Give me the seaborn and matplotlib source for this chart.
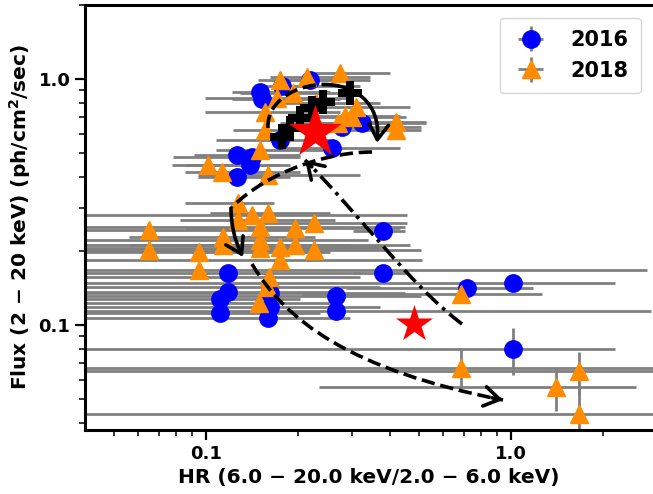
import numpy as np
import pandas as pd
import matplotlib
matplotlib.use("Agg")
import matplotlib.pyplot as plt
import seaborn as sns
from matplotlib.path import Path
from matplotlib.patches import PathPatch, FancyArrowPatch
from matplotlib.ticker import FixedLocator, FixedFormatter, LogLocator, NullFormatter
from matplotlib.legend_handler import HandlerErrorbar

# ---------------- data: 2016 ----------------
hr_2016 = [0.150, 0.153, 0.178, 0.219, 0.280, 0.325, 0.259, 0.175, 0.126, 0.142, 0.139, 0.126,
           0.379, 0.379, 0.718, 1.016, 1.016, 0.267, 0.267, 0.118, 0.118, 0.111, 0.111,
           0.162, 0.162, 0.160]
flux_2016 = [0.885, 0.830, 0.937, 0.990, 0.638, 0.662, 0.524, 0.565, 0.491, 0.482, 0.447, 0.400,
             0.241, 0.163, 0.141, 0.149, 0.080, 0.131, 0.114, 0.163, 0.136, 0.128, 0.112,
             0.135, 0.119, 0.107]
hr_err_lo_2016 = [0.028, 0.031, 0.030, 0.044, 0.077, 0.106, 0.084, 0.067, 0.035, 0.064, 0.054, 0.032,
                  0.076, 0.076, 0.430, 1.016, 1.016, 0.267, 0.267, 0.118, 0.118, 0.111, 0.111,
                  0.162, 0.162, 0.160]
hr_err_hi_2016 = [0.105, 0.122, 0.142, 0.127, 0.225, 0.200, 0.175, 0.080, 0.077, 0.062, 0.036, 0.063,
                  0.071, 0.075, 0.460, 1.170, 1.180, 0.238, 2.600, 0.202, 0.137, 0.092, 0.126,
                  0.288, 0.211, 0.137]
flux_err_2016 = [0.03, 0.03, 0.03, 0.03, 0.025, 0.025, 0.02, 0.02, 0.02, 0.02, 0.02, 0.02,
                 0.01, 0.008, 0.008, 0.008, 0.017, 0.008, 0.008, 0.008, 0.008, 0.008, 0.008,
                 0.008, 0.008, 0.008]

# ---------------- data: 2018 ----------------
hr_2018 = [0.175, 0.215, 0.275, 0.171, 0.156, 0.156, 0.150, 0.418, 0.418, 0.310, 0.270, 0.193,
           0.1015, 0.113, 0.160, 0.300, 0.230, 0.286,
           0.127, 0.127, 0.142, 0.160, 0.150, 0.114, 0.114, 0.150, 0.150, 0.175, 0.175,
           0.196, 0.196, 0.226, 0.226, 0.065, 0.065, 0.095, 0.095, 0.161, 0.158, 0.149,
           0.687, 0.687, 1.405, 1.669, 1.669]
flux_2018 = [0.990, 1.020, 1.058, 0.837, 0.734, 0.621, 0.514, 0.669, 0.621, 0.770, 0.662, 0.877,
             0.447, 0.419, 0.407, 0.701, 0.800, 0.710,
             0.313, 0.268, 0.280, 0.285, 0.250, 0.229, 0.211, 0.221, 0.205, 0.207, 0.184,
             0.248, 0.211, 0.260, 0.202, 0.243, 0.202, 0.198, 0.167, 0.157, 0.143, 0.123,
             0.134, 0.067, 0.056, 0.065, 0.0436]
hr_err_lo_2018 = [0.027, 0.053, 0.064, 0.072, 0.057, 0.033, 0.042, 0.132, 0.121, 0.099, 0.095, 0.064,
                  0.024, 0.028, 0.066, 0.097, 0.068, 0.097,
                  0.042, 0.045, 0.142, 0.057, 0.150, 0.058, 0.058, 0.150, 0.150, 0.065, 0.175,
                  0.111, 0.196, 0.106, 0.226, 0.065, 0.065, 0.095, 0.095, 0.161, 0.158, 0.149,
                  0.480, 0.687, 1.170, 1.669, 1.669]
hr_err_hi_2018 = [0.111, 0.131, 0.127, 0.126, 0.119, 0.099, 0.125, 0.107, 0.087, 0.158, 0.164, 0.127,
                  0.087, 0.090, 0.160, 0.151, 0.143, 0.148,
                  0.040, 0.138, 0.314, 0.095, 0.300, 0.114, 0.183, 0.189, 0.223, 0.211, 0.335,
                  0.238, 0.272, 0.230, 0.279, 0.138, 0.085, 0.160, 2.700, 0.159, 0.215, 0.126,
                  0.580, 2.500, 1.170, 1.500, 1.500]
flux_err_2018 = [0.03, 0.03, 0.03, 0.03, 0.025, 0.025, 0.02, 0.025, 0.025, 0.025, 0.025, 0.03,
                 0.02, 0.02, 0.02, 0.025, 0.03, 0.025,
                 0.012, 0.012, 0.012, 0.012, 0.01, 0.01, 0.01, 0.01, 0.01, 0.01, 0.01,
                 0.01, 0.01, 0.01, 0.01, 0.01, 0.01, 0.01, 0.01, 0.008, 0.008, 0.008,
                 0.008, 0.013, 0.011, 0.013, 0.015]

# ---------------- track (black plus) and reference stars ----------------
hr_track = [0.178, 0.1885, 0.2034, 0.2228, 0.2422, 0.297]
flux_track = [0.581, 0.632, 0.694, 0.762, 0.806, 0.877]
hr_star_big, flux_star_big = [0.228], [0.609]
hr_star_small, flux_star_small = [0.481], [0.101]

# ---------------- annotation arrow paths (axes fraction) ----------------
loop_arrow = [(0.3222, 0.7106), (0.3169, 0.8353), (0.5282, 0.8706), (0.5141, 0.6753)]
dash_curve = [(0.5053, 0.6541), (0.4313, 0.6541), (0.3257, 0.6118), (0.2588, 0.5247)]
down_arrow = [(0.257, 0.5224), (0.2782, 0.4071)]
long_arrow = [(0.2940, 0.3906), (0.3521, 0.2588), (0.4665, 0.1412), (0.7359, 0.0706)]
dashdot_arrow = [(0.6637, 0.2494), (0.5722, 0.3412), (0.4842, 0.5059), (0.3873, 0.6353)]

tick_vals = [0.1, 1.0]
tick_labels = ["0.1", "1.0"]

# ---------------- style ----------------
sns.set_style("ticks", {"axes.edgecolor": "black", "text.color": "black",
                        "axes.labelcolor": "black", "xtick.color": "black",
                        "ytick.color": "black"})
plt.rcParams["font.family"] = ["DejaVu Sans"]
plt.rcParams["font.weight"] = "bold"
plt.rcParams["mathtext.fontset"] = "dejavusans"
plt.rcParams["mathtext.default"] = "bf"

fig = plt.figure(figsize=(6.53, 4.94), dpi=100)
ax = fig.add_axes([85 / 653, 64 / 494, 568 / 653, 425 / 494])

ax.set_xscale("log")
ax.set_yscale("log")

GRAY = "#808080"
eb16 = ax.errorbar(hr_2016, flux_2016, xerr=[hr_err_lo_2016, hr_err_hi_2016], yerr=flux_err_2016,
                   fmt="o", color="blue", ms=12.5, mec="blue", ecolor=GRAY, elinewidth=2,
                   capsize=0, zorder=2, label="2016")
eb18 = ax.errorbar(hr_2018, flux_2018, xerr=[hr_err_lo_2018, hr_err_hi_2018], yerr=flux_err_2018,
                   fmt="^", color="darkorange", ms=13, mec="darkorange", ecolor=GRAY, elinewidth=2,
                   capsize=0, zorder=2, label="2018")
eb16[0].set_zorder(4)
eb18[0].set_zorder(4.1)

df_track = pd.DataFrame({"hr": hr_track, "flux": flux_track})
sns.scatterplot(data=df_track, x="hr", y="flux", marker="P", s=17 ** 2, color="black",
                edgecolor="black", linewidth=0, ax=ax, zorder=5, legend=False)
df_big = pd.DataFrame({"hr": hr_star_big, "flux": flux_star_big})
sns.scatterplot(data=df_big, x="hr", y="flux", marker="*", s=40 ** 2, color="red",
                edgecolor="red", linewidth=0, ax=ax, zorder=5.5, legend=False)
df_small = pd.DataFrame({"hr": hr_star_small, "flux": flux_star_small})
sns.scatterplot(data=df_small, x="hr", y="flux", marker="*", s=28 ** 2, color="red",
                edgecolor="red", linewidth=0, ax=ax, zorder=5.5, legend=False)

# ---------------- arrows ----------------
def cubic(pts):
    return Path(np.asarray(pts), [Path.MOVETO, Path.CURVE4, Path.CURVE4, Path.CURVE4])

def split_cubic(p, t):
    p = np.asarray(p, dtype=float)
    a = (1 - t) * p[0] + t * p[1]
    b = (1 - t) * p[1] + t * p[2]
    c = (1 - t) * p[2] + t * p[3]
    d = (1 - t) * a + t * b
    e = (1 - t) * b + t * c
    f = (1 - t) * d + t * e
    return [p[0], a, d, f], [f, e, c, p[3]]

LW = 2.6
AST = "->,head_length=0.55,head_width=0.35"

def dashed(pts, ls="--"):
    ax.add_patch(PathPatch(cubic(pts), fill=False, lw=LW, ls=ls, ec="black",
                           transform=ax.transAxes, zorder=7, capstyle="butt"))

def head(pts):
    p2 = np.asarray(pts[-2], float)
    p3 = np.asarray(pts[-1], float)
    d = p3 - p2
    d = d / np.hypot(*d) * 0.02
    ax.add_patch(FancyArrowPatch(tuple(p3 - d), tuple(p3), arrowstyle=AST, mutation_scale=20,
                                 lw=LW, color="black", shrinkA=0, shrinkB=0,
                                 transform=ax.transAxes, zorder=7))

first, second = split_cubic(loop_arrow, 0.5)
dashed(first)
ax.add_patch(FancyArrowPatch(path=cubic(second), arrowstyle=AST, mutation_scale=20, lw=LW,
                             color="black", transform=ax.transAxes, zorder=7))
dashed(dash_curve)
ax.add_patch(FancyArrowPatch(down_arrow[0], down_arrow[1], arrowstyle=AST, mutation_scale=20,
                             lw=LW, color="black", shrinkA=0, shrinkB=0,
                             connectionstyle="arc3,rad=0.12",
                             transform=ax.transAxes, zorder=7))
dashed(long_arrow)
head(long_arrow)
dashed(dashdot_arrow, ls=(0, (4.5, 1.6, 1.0, 1.6)))
head(dashdot_arrow)

# ---------------- axes ----------------
ax.set_xlim(0.0401, 2.92)
ax.set_ylim(0.0375, 2.0)
ax.xaxis.set_major_locator(FixedLocator(tick_vals))
ax.xaxis.set_major_formatter(FixedFormatter(tick_labels))
ax.yaxis.set_major_locator(FixedLocator(tick_vals))
ax.yaxis.set_major_formatter(FixedFormatter(tick_labels))
ax.xaxis.set_minor_locator(LogLocator(base=10, subs=np.arange(2, 10)))
ax.yaxis.set_minor_locator(LogLocator(base=10, subs=np.arange(2, 10)))
ax.xaxis.set_minor_formatter(NullFormatter())
ax.yaxis.set_minor_formatter(NullFormatter())
ax.tick_params(which="major", length=7, width=1.6, labelsize=13, direction="out", colors="black")
ax.tick_params(which="minor", length=4, width=1.1, direction="out", colors="black")
for lab in ax.get_xticklabels() + ax.get_yticklabels():
    lab.set_fontweight("bold")
for s in ["left", "bottom", "top"]:
    ax.spines[s].set_linewidth(2.2)
    ax.spines[s].set_color("black")
ax.spines["right"].set_visible(False)

ax.set_xlabel("HR (6.0 \u2212 20.0 keV/2.0 \u2212 6.0 keV)", fontsize=14.5, fontweight="bold",
              color="black")
ax.set_ylabel("Flux (2 \u2212 20 keV) (ph/cm$^{2}$/sec)", fontsize=14.5, fontweight="bold",
              color="black")

leg = ax.legend(handles=[eb16, eb18], labels=["2016", "2018"], loc="upper right",
                prop={"size": 15, "weight": "bold"}, frameon=True, borderpad=0.6,
                handletextpad=1.0, handlelength=1.8, borderaxespad=0.3,
                bbox_to_anchor=(0.99, 0.985),
                handler_map={type(eb16): HandlerErrorbar(xerr_size=0.6, yerr_size=0.6)})
leg.get_frame().set_edgecolor("#cccccc")
leg.get_frame().set_linewidth(1.0)
for t in leg.get_texts():
    t.set_color("black")

fig.savefig("out.png", dpi=100)
